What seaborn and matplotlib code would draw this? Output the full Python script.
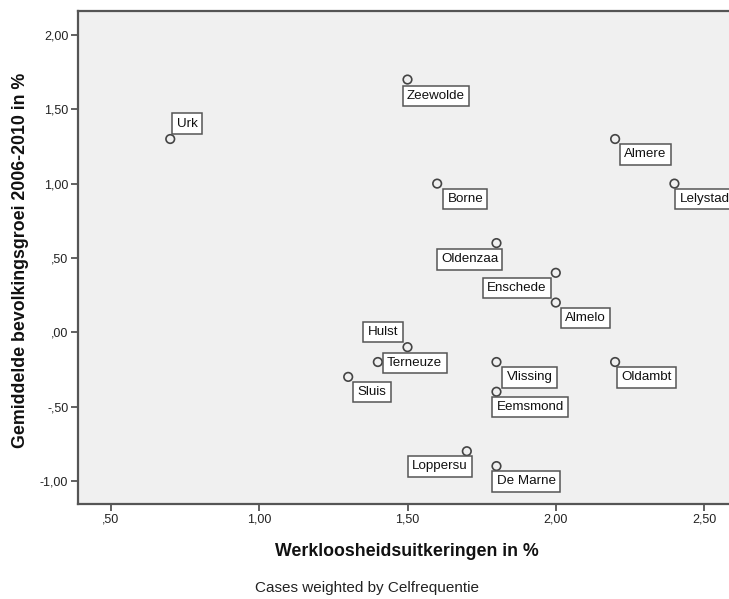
import pandas as pd
import numpy as np
import matplotlib
matplotlib.use("Agg")
import matplotlib.pyplot as plt
import seaborn as sns

# gemeenten, werkloosheidsuitkeringen (%) en bevolkingsgroei (%)
gemeenten = ['Urk', 'Zeewolde', 'Borne', 'Almere', 'Lelystad', 'Oldenzaa',
             'Enschede', 'Almelo', 'Hulst', 'Terneuze', 'Sluis', 'Vlissing',
             'Eemsmond', 'Oldambt', 'Loppersu', 'De Marne']
werkloosheid = [0.7, 1.5, 1.6, 2.2, 2.4, 1.8, 2.0, 2.0, 1.5, 1.4, 1.3, 1.8,
                1.8, 2.2, 1.7, 1.8]
groei = [1.3, 1.7, 1.0, 1.3, 1.0, 0.6, 0.4, 0.2, -0.1, -0.2, -0.3, -0.2,
         -0.4, -0.2, -0.8, -0.9]

x_ticks = [0.5, 1.0, 1.5, 2.0, 2.5]
y_ticks = [-1.0, -0.5, 0.0, 0.5, 1.0, 1.5, 2.0]

# label box placement: (ha, va, gap x, gap y) in pixels from the point
placement = {
    'Urk': ('left', 'bottom', 2, 5),
    'Zeewolde': ('left', 'top', -5, -6),
    'Borne': ('left', 'top', 6, -5),
    'Almere': ('left', 'top', 5, -5),
    'Lelystad': ('left', 'top', 1, -5),
    'Oldenzaa': ('right', 'top', 6, -6),
    'Enschede': ('right', 'top', -5, -5),
    'Almelo': ('left', 'top', 5, -5),
    'Hulst': ('right', 'bottom', -5, 5),
    'Terneuze': ('left', 'center', 5, -1),
    'Sluis': ('left', 'top', 5, -5),
    'Vlissing': ('left', 'top', 6, -5),
    'Eemsmond': ('left', 'top', -4, -5),
    'Oldambt': ('left', 'top', 2, -5),
    'Loppersu': ('right', 'top', 5, -5),
    'De Marne': ('left', 'top', -4, -5),
}

df = pd.DataFrame({'gemeente': gemeenten, 'werkloosheid': werkloosheid, 'groei': groei})

sns.set_style('white')
plt.rcParams['font.family'] = ['Liberation Sans', 'DejaVu Sans']

DPI = 100
W, H = 729, 599
edge = '#555555'

fig = plt.figure(figsize=(W / DPI, H / DPI), dpi=DPI)
ax = fig.add_axes([78 / W, 1 - 504 / H, (W - 78) / W, (504 - 11) / H])
ax.set_facecolor('#f0f0f0')

sns.scatterplot(data=df, x='werkloosheid', y='groei', ax=ax, s=38,
                facecolor='none', edgecolor='#444444', linewidth=1.2, zorder=3)

label_fs = 9.6
box_pad = 0.32
pad = box_pad * label_fs * DPI / 72
for name, xv, yv in zip(gemeenten, werkloosheid, groei):
    ha, va, gx, gy = placement[name]
    ox = gx + pad if ha == 'left' else gx - pad
    oy = gy - pad if va == 'top' else (gy + pad if va == 'bottom' else gy)
    ax.annotate(name, (xv, yv), xytext=(ox, oy), textcoords='offset pixels',
                ha=ha, va=va, fontsize=label_fs, color='#111111', zorder=4,
                annotation_clip=False,
                bbox=dict(boxstyle=f'square,pad={box_pad}', fc='white', ec=edge, lw=1.1))

ax.set_xlim(0.389, 2.584)
ax.set_ylim(-1.155, 2.161)


def nl_fmt(v):
    s = f'{v:.2f}'.replace('.', ',')
    return s.replace('0,', ',', 1) if s.lstrip('-').startswith('0,') else s


ax.set_xticks(x_ticks)
ax.set_xticklabels([nl_fmt(v) for v in x_ticks])
ax.set_yticks(y_ticks)
ax.set_yticklabels([nl_fmt(v) for v in y_ticks])
ax.tick_params(axis='both', direction='out', length=5, width=1.3, color=edge,
               labelsize=9, labelcolor='#222222', pad=2,
               bottom=True, left=True)
for side in ['left', 'bottom', 'top']:
    ax.spines[side].set_color(edge)
    ax.spines[side].set_linewidth(1.6)
ax.spines['right'].set_visible(False)

ax.set_xlabel('')
ax.set_ylabel('')
fig.text(407 / W, 1 - 552 / H, 'Werkloosheidsuitkeringen in %', ha='center', va='center',
         fontsize=12.8, fontweight='bold', color='#111111')
fig.text(21 / W, 1 - 260 / H, 'Gemiddelde bevolkingsgroei 2006-2010 in %', ha='center',
         va='center', rotation=90, fontsize=12.8, fontweight='bold', color='#111111')
fig.text(367 / W, 1 - 588 / H, 'Cases weighted by Celfrequentie', ha='center', va='center',
         fontsize=11, color='#222222', family=['Liberation Sans Narrow', 'Liberation Sans'])

fig.savefig('out.png', dpi=DPI)
